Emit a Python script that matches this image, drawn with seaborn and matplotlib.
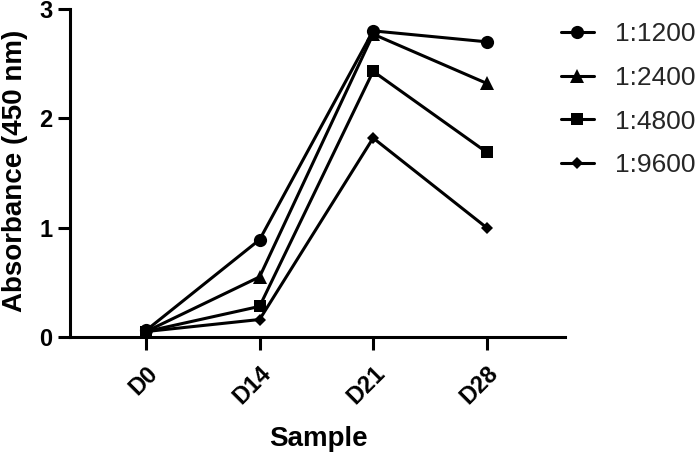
import matplotlib
matplotlib.use("Agg")
import matplotlib.pyplot as plt
import seaborn as sns
import pandas as pd

samples = ["D0", "D14", "D21", "D28"]
dilutions = ["1:1200", "1:2400", "1:4800", "1:9600"]
v_1200 = [0.06, 0.89, 2.80, 2.70]
v_2400 = [0.05, 0.55, 2.77, 2.32]
v_4800 = [0.05, 0.28, 2.43, 1.69]
v_9600 = [0.05, 0.16, 1.82, 1.00]
yticks = [0, 1, 2, 3]

series = dict(zip(dilutions, [v_1200, v_2400, v_4800, v_9600]))
rows = []
for d, vals in series.items():
    for s, v in zip(samples, vals):
        rows.append({"Sample": s, "Dilution": d, "Absorbance": v})
df = pd.DataFrame(rows)
df["x"] = df["Sample"].map({s: i for i, s in enumerate(samples)})

sns.set_theme(style="ticks")
plt.rcParams["font.family"] = ["Liberation Sans", "DejaVu Sans"]

fig = plt.figure(figsize=(7, 4.57), dpi=100)
ax = fig.add_axes([70/700, 1-337/457, 495/700, 328/457])

markers = {"1:1200": "o", "1:2400": "^", "1:4800": "s", "1:9600": "D"}
msize = {"1:1200": 9.5, "1:2400": 9.5, "1:4800": 8.5, "1:9600": 6.5}
sns.lineplot(data=df, x="x", y="Absorbance", hue="Dilution", style="Dilution",
             markers=markers, dashes=False, palette=["black"]*4,
             linewidth=2.2, markersize=9, markeredgewidth=0, ax=ax, legend=False)
for line, d in zip(ax.lines, dilutions):
    line.set_markersize(msize[d])

ax.tick_params(axis="both", width=2.2, length=9, color="black", labelcolor="black")
ax.tick_params(axis="y", pad=3.5, labelsize=17)
ax.tick_params(axis="x", pad=9, labelsize=17)

ax.set_xlim(-0.67, 3.69)
ax.set_ylim(0, 3)
ax.set_yticks(yticks)
ax.set_yticklabels([str(t) for t in yticks], fontsize=17, fontweight="bold")
ax.set_xticks(range(len(samples)))
ax.set_xticklabels(samples, rotation=45, ha="right", rotation_mode="anchor",
                   fontsize=17, fontweight="bold")
for sp in ["left", "bottom"]:
    ax.spines[sp].set_linewidth(2.2)
    ax.spines[sp].set_color("black")
sns.despine(ax=ax)

ax.set_xlabel("Sample", fontsize=20, fontweight="bold", color="black")
ax.set_ylabel("Absorbance (450 nm)", fontsize=20, fontweight="bold", color="black")
ax.xaxis.set_label_coords(0.501, -0.27)
ax.yaxis.set_label_coords(-0.084, 0.506)

from matplotlib.lines import Line2D
handles = [Line2D([], [], color="black", linewidth=2.2, marker=markers[d],
                  markersize=msize[d], markeredgewidth=0)
           for d in dilutions]
fig.legend(handles, dilutions, loc="upper left", bbox_to_anchor=(561/700, 1-22/457),
           frameon=False, fontsize=19, handlelength=1.25, handletextpad=0.8,
           labelspacing=0.75, borderpad=0, borderaxespad=0)

fig.savefig("out.png", dpi=100)
